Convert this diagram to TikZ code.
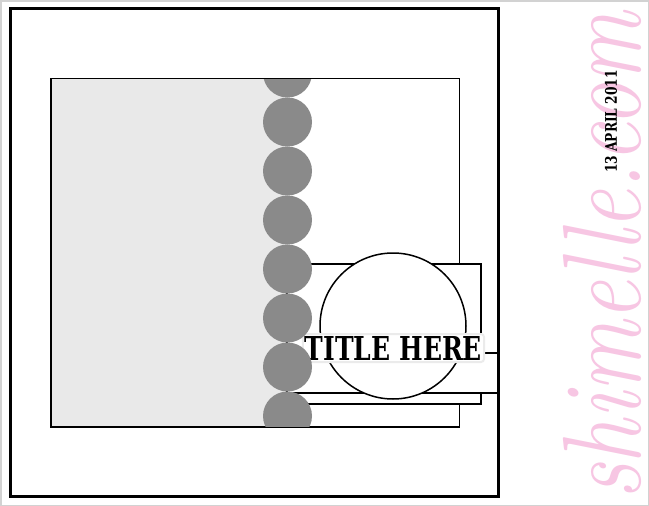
\documentclass[tikz,border=0pt]{standalone}
\usepackage{fontspec}
\usepackage{graphicx}
\newfontfamily\slabfont{DejaVu Serif Condensed}
\definecolor{panelgray}{RGB}{233,233,233}
\definecolor{dotgray}{RGB}{138,138,138}
\definecolor{sitepink}{RGB}{247,198,227}

\begin{document}
\begin{tikzpicture}[x=1pt, y=-1pt,
    matbox/.style={draw=black, fill=white, line width=1.6pt},
    dot/.style={fill=dotgray}]
	\useasboundingbox (0,0) rectangle (649,506);
	\fill[white] (0,0) rectangle (649,506);
	\draw[gray!35, line width=1.5pt] (0.75,0.75) rectangle (648.25,505.25);
	% photo mat
	\fill[panelgray] (51,78.3) rectangle (287.5,427);
	\draw[line width=1.6pt] (51,78.3) rectangle (459.5,427);
	% layered mats
	\draw[matbox] (287,264) rectangle (481,404);
	\draw[matbox] (287,353) rectangle (498.5,393);
	\draw[line width=1.5pt, fill=white] (393,326) circle (73);
	\node[fill=white, draw=black!8, line width=2pt, rounded corners=3pt, inner sep=2pt] (title) at (393.5,348)
		{\resizebox{177pt}{24pt}{\slabfont\bfseries TITLE HERE}};
	% dot border
	\begin{scope}
		\clip (51,79.1) rectangle (459.5,426.2);
		\foreach \y in {73,122,...,416}
			\fill[dot] (287.5,\y) circle (24.5);
	\end{scope}
	\draw[line width=3pt] (10.5,8.2) rectangle (498.5,496.5);
	% side texts
	\node[rotate=90, yscale=1.25, anchor=base, inner sep=0pt, text=sitepink, font=\fontsize{89}{89}\itshape] (site) at (640,256)
		{shimelle.com};
	\node[rotate=90, xscale=0.85, inner sep=0pt, font=\fontsize{16}{16}\slabfont\bfseries] (date) at (611,121.5)
		{13 APRIL 2011};
\end{tikzpicture}
\end{document}
